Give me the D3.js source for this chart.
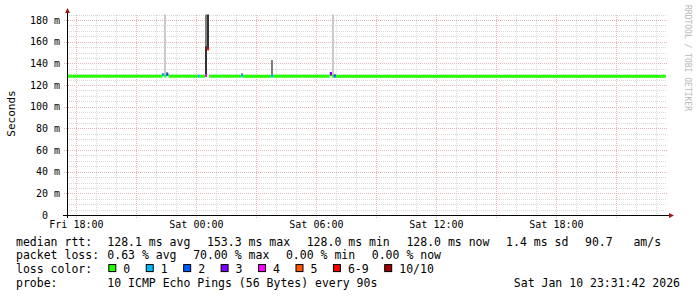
<!DOCTYPE html>
<html>
<head>
<meta charset="utf-8">
<script src="https://cdn.jsdelivr.net/npm/d3@7"></script>
<style>
  body { margin: 0; background: #fff; }
  svg { display: block; }
  text { font-family: "DejaVu Sans Mono", monospace; fill: #000; }
</style>
</head>
<body>
<svg id="chart" width="697" height="297"></svg>
<script>
// --- Data ---
const startTime = "2026-01-09 17:31:42";
const endTime = "2026-01-10 23:31:42";
const stepMinutes = 6;
const pingCount = 10;

// loss colour legend
const lossLabels = ["0", "1", "2", "3", "4", "5", "6-9", "10/10"];
const lossColors = ["#26ff00", "#00b8ff", "#0059ff", "#7e00ff", "#ff00ff", "#ff5500", "#ff0000", "#a10000"];

// quiet stretches: loss 0, flat median (ms)
const segFrom = ["2026-01-09 17:31:42", "2026-01-09 22:36", "2026-01-10 00:10", "2026-01-10 00:38", "2026-01-10 02:20", "2026-01-10 03:50", "2026-01-10 06:58"];
const segTo = ["2026-01-09 22:18", "2026-01-10 00:04", "2026-01-10 00:26", "2026-01-10 02:14", "2026-01-10 03:44", "2026-01-10 06:40", "2026-01-10 23:28"];
const segMedian = [128.1, 128.1, 128.1, 128.1, 128.0, 128.1, 128.0];

// steps with loss or spikes: received pings (ms), sorted; lost = 10 - length
const eventTimes = ["2026-01-09 22:18", "2026-01-09 22:24", "2026-01-09 22:30", "2026-01-10 00:04",
                    "2026-01-10 00:26", "2026-01-10 00:32", "2026-01-10 02:14", "2026-01-10 03:44",
                    "2026-01-10 06:40", "2026-01-10 06:46", "2026-01-10 06:52"];
const eventPings = [
  [127.9, 128.0, 128.1, 128.3, 129.3, 129.6, 130.0, 130.4, 130.9],
  [127.9, 127.9, 128.0, 128.0, 128.1, 128.1, 128.2, 128.4, 128.9, 262.0],
  [128.0, 128.2, 128.9, 129.8, 130.1, 130.5, 131.0, 131.6],
  [127.9, 128.0, 128.0, 128.1, 128.1, 128.2, 128.3, 128.5, 128.8],
  [128.2, 128.4, 128.8, 155.0, 156.0, 300.0],
  [128.6, 153.3, 300.0],
  [127.9, 128.0, 128.1, 128.2, 128.4, 128.9, 129.6, 130.5, 131.4],
  [127.9, 128.0, 128.1, 128.2, 128.3, 128.6, 129.0, 142.8, 143.1],
  [128.1, 128.6, 129.4, 130.6, 131.0, 131.5, 132.0],
  [127.9, 128.0, 128.0, 128.1, 128.2, 128.3, 128.4, 128.6, 129.2, 258.0],
  [127.9, 128.0, 128.1, 128.2, 128.4, 128.7, 129.1, 129.8]
];

const yTicks = [0, 20, 40, 60, 80, 100, 120, 140, 160, 180];
const xTickTimes = ["2026-01-09 18:00", "2026-01-10 00:00", "2026-01-10 06:00", "2026-01-10 12:00", "2026-01-10 18:00"];
const xTickLabels = ["Fri 18:00", "Sat 00:00", "Sat 06:00", "Sat 12:00", "Sat 18:00"];

const rttStats = ["128.1 ms avg", "153.3 ms max", "128.0 ms min", "128.0 ms now", "1.4 ms sd", "90.7   am/s"];
const lossStats = ["0.63 % avg", "70.00 % max", "0.00 % min", "0.00 % now"];
const probeText = "10 ICMP Echo Pings (56 Bytes) every 90s";
const stampText = "Sat Jan 10 23:31:42 2026";

// --- Layout ---
const parseFull = d3.timeParse("%Y-%m-%d %H:%M:%S"),
    parseShort = d3.timeParse("%Y-%m-%d %H:%M");
const parse = s => parseFull(s) || parseShort(s);

const svg = d3.select("#chart");
const plotLeft = 67, plotRight = 667, plotBottom = 215;
const yMax = 185;
const plotTop = plotBottom - yMax * 195 / 180;

const x = d3.scaleTime()
    .domain([parse(startTime), parse(endTime)])
    .range([plotLeft, plotRight]);

const y = d3.scaleLinear()
    .domain([0, yMax])
    .range([plotBottom, plotTop]);

const lossIndex = lost => lost >= 10 ? 7 : (lost >= 6 ? 6 : lost);
const addStep = t => d3.timeMinute.offset(t, stepMinutes);

// --- Grid ---
const grid = svg.append("g").attr("shape-rendering", "crispEdges");
const hours = d3.timeHour.every(1).range(x.domain()[0], x.domain()[1]);
const yMinor = d3.range(0, yMax + 0.1, 5);
const minorColor = "#d9d9d9", majorColor = "#e4b8b8";

grid.selectAll(".vminor")
    .data(hours.filter(d => d.getHours() % 3 !== 0))
    .enter().append("line")
    .attr("x1", d => Math.round(x(d)) + 0.5).attr("x2", d => Math.round(x(d)) + 0.5)
    .attr("y1", plotTop).attr("y2", plotBottom)
    .attr("stroke", minorColor).attr("stroke-dasharray", "1,1");

grid.selectAll(".hminor")
    .data(yMinor.filter(d => d % 20 !== 0))
    .enter().append("line")
    .attr("x1", plotLeft).attr("x2", plotRight)
    .attr("y1", d => Math.round(y(d)) + 0.5).attr("y2", d => Math.round(y(d)) + 0.5)
    .attr("stroke", minorColor).attr("stroke-dasharray", "1,1");

grid.selectAll(".vmajor")
    .data(hours.filter(d => d.getHours() % 3 === 0))
    .enter().append("line")
    .attr("x1", d => Math.round(x(d)) + 0.5).attr("x2", d => Math.round(x(d)) + 0.5)
    .attr("y1", plotTop).attr("y2", plotBottom + 3)
    .attr("stroke", majorColor).attr("stroke-dasharray", "1,1");

grid.selectAll(".hmajor")
    .data(yTicks.filter(d => d > 0))
    .enter().append("line")
    .attr("x1", plotLeft - 3).attr("x2", plotRight)
    .attr("y1", d => Math.round(y(d)) + 0.5).attr("y2", d => Math.round(y(d)) + 0.5)
    .attr("stroke", majorColor).attr("stroke-dasharray", "1,1");

// --- Smoke (smokeping style nested bands, lost pings centred) ---
svg.append("clipPath").attr("id", "plot")
    .append("rect").attr("x", plotLeft).attr("y", plotTop)
    .attr("width", plotRight - plotLeft).attr("height", plotBottom - plotTop);

const plot = svg.append("g").attr("clip-path", "url(#plot)");
const half = pingCount / 2;
const smokeRects = [];
eventTimes.forEach((ts, i) => {
    const pings = eventPings[i];
    const lost = pingCount - pings.length;
    const slots = d3.range(Math.floor(lost / 2)).map(() => null)
        .concat(pings)
        .concat(d3.range(lost - Math.floor(lost / 2)).map(() => null));
    const t = parse(ts);
    for (let ibot = 1, itop = pingCount; ibot < itop; ibot++, itop--) {
        const lo = slots[ibot - 1], hi = slots[itop - 1];
        if (lo == null || hi == null) continue;
        const c = Math.floor(190 / half * (half - ibot)) + 50;
        smokeRects.push({ t: t, lo: lo, hi: Math.min(hi, yMax + 5), color: d3.rgb(c, c, c) });
    }
});

plot.selectAll(".smoke")
    .data(smokeRects)
    .enter().append("rect")
    .attr("x", d => x(d.t))
    .attr("width", d => x(addStep(d.t)) - x(d.t))
    .attr("y", d => y(d.hi))
    .attr("height", d => y(d.lo) - y(d.hi))
    .attr("fill", d => d.color)
    .attr("shape-rendering", "crispEdges");

// --- Median, coloured by loss ---
plot.selectAll(".base")
    .data(segMedian)
    .enter().append("rect")
    .attr("x", (d, i) => x(parse(segFrom[i])))
    .attr("width", (d, i) => x(parse(segTo[i])) - x(parse(segFrom[i])))
    .attr("y", d => y(d) - 1.5)
    .attr("height", 3)
    .attr("fill", lossColors[0]);

plot.selectAll(".med")
    .data(eventPings)
    .enter().append("rect")
    .attr("x", (d, i) => x(parse(eventTimes[i])))
    .attr("width", (d, i) => x(addStep(parse(eventTimes[i]))) - x(parse(eventTimes[i])))
    .attr("y", d => y(d[Math.floor((d.length - 1) / 2)]) - 1.5)
    .attr("height", 3)
    .attr("fill", d => lossColors[lossIndex(pingCount - d.length)]);

// --- Axes ---
const axis = svg.append("g");
axis.append("line")
    .attr("x1", plotLeft - 4).attr("x2", plotRight + 2)
    .attr("y1", plotBottom + 0.5).attr("y2", plotBottom + 0.5)
    .attr("stroke", "#000");
axis.append("line")
    .attr("x1", plotLeft + 0.5).attr("x2", plotLeft + 0.5)
    .attr("y1", plotBottom + 3).attr("y2", 12)
    .attr("stroke", "#000");
axis.append("path")
    .attr("d", `M${plotLeft + 0.5},8 L${plotLeft + 3},13 L${plotLeft - 2},13 Z`)
    .attr("fill", "#a01818");
axis.append("path")
    .attr("d", `M${plotRight + 7},${plotBottom + 0.5} L${plotRight + 2},${plotBottom - 2} L${plotRight + 2},${plotBottom + 3} Z`)
    .attr("fill", "#a01818");

axis.selectAll(".ylab")
    .data(yTicks)
    .enter().append("text")
    .attr("x", 60)
    .attr("y", d => y(d) + 3.6)
    .attr("text-anchor", "end")
    .attr("xml:space", "preserve")
    .style("font-size", "10px")
    .text(d => d === 0 ? "0  " : d + " m");

axis.selectAll(".xlab")
    .data(xTickTimes)
    .enter().append("text")
    .attr("x", d => x(parse(d)))
    .attr("y", 228)
    .attr("text-anchor", "middle")
    .style("font-size", "10px")
    .text((d, i) => xTickLabels[i]);

svg.append("text")
    .attr("transform", "translate(14.5,113.5) rotate(-90)")
    .attr("text-anchor", "middle")
    .style("font-size", "11px")
    .text("Seconds");

svg.append("text")
    .attr("transform", "translate(685,5) rotate(90)")
    .style("font-size", "8px")
    .style("fill", "#b8b8b8")
    .text("RRDTOOL / TOBI OETIKER");

// --- Legend ---
const legend = svg.append("g").style("font-size", "11.5px");
const rowY = [245.5, 259.3, 273.1, 286.9];
const col0 = 16, col1 = 107.3, gap = 16.6;

function row(label, items, yy) {
    legend.append("text").attr("x", col0).attr("y", yy).text(label);
    let xx = col1;
    items.forEach(s => {
        const t = legend.append("text").attr("x", xx).attr("y", yy)
            .attr("xml:space", "preserve").text(s);
        xx += t.node().getComputedTextLength() + gap;
    });
}
row("median rtt:", rttStats, rowY[0]);
row("packet loss:", lossStats, rowY[1]);

legend.append("text").attr("x", col0).attr("y", rowY[2]).text("loss color:");
let lx = col1;
lossLabels.forEach((lab, i) => {
    legend.append("rect")
        .attr("x", lx + 1.5).attr("y", rowY[2] - 8.5)
        .attr("width", 7).attr("height", 7)
        .attr("fill", lossColors[i]).attr("stroke", "#000").attr("stroke-width", 1);
    const t = legend.append("text").attr("x", lx + 16).attr("y", rowY[2]).text(lab);
    lx += 16 + t.node().getComputedTextLength() + 14.5;
});

legend.append("text").attr("x", col0).attr("y", rowY[3]).text("probe:");
legend.append("text").attr("x", col1).attr("y", rowY[3]).text(probeText);
legend.append("text").attr("x", 680).attr("y", rowY[3]).attr("text-anchor", "end").text(stampText);
</script>
</body>
</html>
